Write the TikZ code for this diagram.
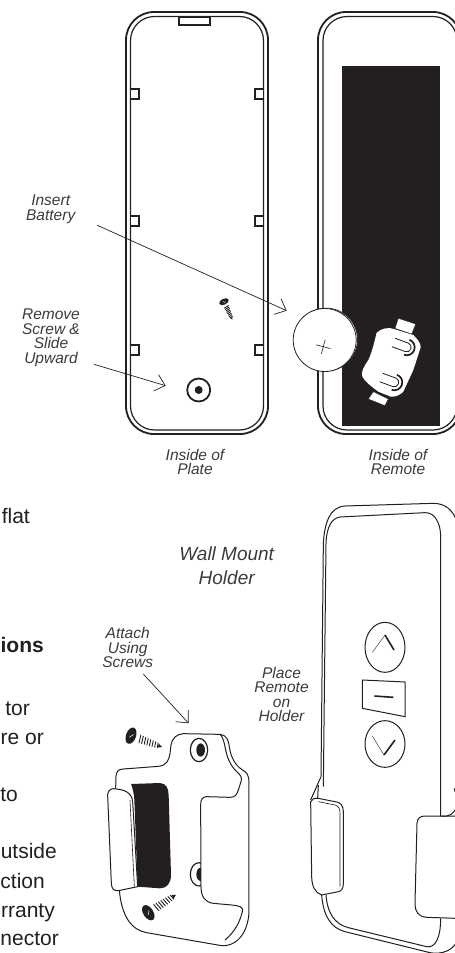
\documentclass[tikz,border=0pt]{standalone}
\usepackage{fontspec}
\setmainfont{Liberation Sans}
\usetikzlibrary{arrows.meta}
\definecolor{ink}{HTML}{231F20}
\definecolor{note}{HTML}{3C3A3B}
\begin{document}
\begin{tikzpicture}[x=1pt, y=-1pt,
    rim/.style={draw=ink, line width=1.8pt, rounded corners=#1},
    lug/.style={draw=ink, line width=1.5pt, fill=white},
    outline/.style={draw=ink, line width=1pt},
    pointer/.style={draw=ink, line width=0.7pt, -{Straight Barb[length=9.5pt, width=17pt, line width=0.7pt]}},
    caption/.style={text=note, align=center, inner sep=0pt, font=\fontsize{15.5}{14.5}\selectfont\itshape},
    body/.style={text=ink, inner sep=0pt, anchor=base east, font=\fontsize{21}{24}\selectfont},
    screw/.pic={
        \fill[ink] (0,0) ellipse [x radius=5, y radius=8.5];
        \draw[white, line width=0.5pt] (-1,2) -- (2,-2);
        \foreach \i in {0,...,7}
            \draw[ink, line width=0.9pt] ({9+\i*2.7},{-(4.2-\i*0.2)}) -- ({10+\i*2.7},{4.2-\i*0.2});
        \fill[ink] (29,-2) -- (33,0) -- (29,2) -- cycle;
    },
    contact/.pic={
        \draw[ink, line width=1.7pt] (0,-8) arc [start angle=-90, end angle=90, radius=8];
        \draw[ink, line width=0.8pt] (-14,-4.5) -- (0,-4.5) arc [start angle=-90, end angle=90, radius=4.5] -- (-14,4.5);
    }]
    \useasboundingbox (0,0) rectangle (455,953);
    \clip (0,0) rectangle (455,953);

    % Plate
    \draw[rim=28pt] (126,12) rectangle (268,434);
    \draw[rim=24pt, line width=1.2pt] (130.5,16.5) rectangle (263.5,430);
    \draw[lug] (179,17) rectangle (210,25);
    \foreach \y in {89,216,345} {
        \draw[lug] (130.5,\y) rectangle (139,\y+10);
        \draw[lug] (255,\y) rectangle (263.5,\y+10);
    }
    \pic[rotate=-65, scale=0.6] at (224,301.7) {screw};
    \draw[ink, line width=1.8pt] (198.7,390) circle [radius=11.5];
    \fill[ink] (198.7,390) circle [radius=4];

    % Remote
    \draw[rim=28pt] (318,12) rectangle (461,434);
    \draw[rim=24pt, line width=1.2pt] (323,16.5) rectangle (457,430);
    \fill[ink] (342,66) rectangle (440,425.7);

    % Battery and its clip
    \draw[draw=ink, fill=white, line width=0.7pt] (326,339.6) circle [radius=31.5];
    \draw[draw=ink, fill=white, line width=0.8pt] (324.7,340) circle [radius=31.5];
    \draw[ink, line width=0.6pt] (316.2,344.8) -- (330.4,348.6) (325.2,339.6) -- (321.4,353.8);
    \begin{scope}[shift={(0,200)}, scale=1/3]
        \fill[white] (1130,398) .. controls (1145,385) and (1165,380) .. (1185,388) -- (1240,405) .. controls (1255,420) and (1262,430) .. (1262,442) -- (1240,510) -- (1210,575) .. controls (1200,585) and (1185,592) .. (1172,590) -- (1135,575) .. controls (1115,560) and (1095,545) .. (1087,530) .. controls (1082,515) and (1092,500) .. (1105,480) .. controls (1115,460) and (1122,430) .. (1130,398) -- cycle;
        \draw[draw=ink, fill=white, line width=0.4pt] (1195,355) -- (1247,372) -- (1235,402) -- (1185,385) -- cycle;
        \draw[draw=ink, fill=white, line width=0.4pt] (1120,575) -- (1165,597) -- (1155,617) -- (1105,597) -- cycle;
    \end{scope}
    \pic[rotate=-20] at (406.7,347.3) {contact};
    \pic[rotate=-20] at (394.3,382.3) {contact};

    % Holder
    \begin{scope}[shift={(0,690)}, scale=1/3]
        \fill[ink] (393,282) -- (480,279) .. controls (500,281) and (505,295) .. (506,315) -- (513,555) .. controls (513,580) and (500,595) .. (480,595) -- (413,590) -- (403,330) .. controls (402,310) and (398,295) .. (393,282) -- cycle;
        \draw[outline] (660,133) .. controls (680,135) and (685,150) .. (688,170) .. controls (692,200) and (705,225) .. (725,238) .. controls (742,248) and (747,255) .. (747,280) -- (747,660) .. controls (747,720) and (715,770) .. (665,767) -- (440,728) .. controls (395,720) and (365,680) .. (358,600);
        \draw[outline] (347,295) -- (348,260) .. controls (349,243) and (355,238) .. (370,237) -- (475,229) .. controls (500,227) and (507,210) .. (510,190) -- (513,165) .. controls (516,145) and (530,132) .. (550,131) -- (660,133) .. controls (668,140) and (672,155) .. (675,170) .. controls (680,200) and (690,225) .. (710,245) .. controls (722,255) and (727,262) .. (723,275) -- (715,300) .. controls (710,315) and (705,322) .. (690,322) -- (620,320) .. controls (608,320) and (602,328) .. (602,345) -- (603,590) .. controls (603,620) and (615,637) .. (640,640) -- (695,645) .. controls (720,648) and (730,650) .. (727,665) .. controls (720,695) and (705,725) .. (675,750);
        \draw[outline] (323,315) .. controls (323,305) and (330,296) .. (340,296) .. controls (370,298) and (395,305) .. (398,335) -- (413,590) -- (355,602) .. controls (340,603) and (335,595) .. (334,580) -- (323,315);
        \draw[outline, line width=0.6pt] (390,330) -- (403,590);
        \draw[outline, line width=1.2pt] (597,180) ellipse [x radius=26, y radius=35];
        \fill[ink] (602,180) ellipse [x radius=13, y radius=20];
        \begin{scope}
            \clip (500,500) rectangle (603,600);
            \draw[outline, line width=1.2pt] (597,553) ellipse [x radius=26, y radius=35];
            \fill[ink] (602,553) ellipse [x radius=13, y radius=20];
        \end{scope}
    \end{scope}
    \pic[rotate=-20] at (131,735.7) {screw};
    \pic[rotate=33] at (148.3,912.7) {screw};

    % Remote on holder
    \begin{scope}[shift={(290,490)}, scale=1/3]
        \draw[outline] (93,860) -- (100,165) .. controls (102,100) and (120,50) .. (165,48) -- (430,40) .. controls (465,40) and (490,60) .. (500,95);
        \draw[outline] (100,890) -- (108,160) .. controls (110,110) and (125,85) .. (150,81) -- (405,68) .. controls (435,67) and (452,100) .. (452,140) -- (452,978);
        \draw[outline] (93,860) -- (62,930);
        \draw[outline] (85,885) -- (83,925);
        \draw[outline] (95,1215) .. controls (100,1280) and (125,1315) .. (165,1325) -- (420,1388) .. controls (455,1395) and (490,1380) .. (500,1355);
        \draw[outline] (108,1215) .. controls (112,1270) and (135,1303) .. (175,1313) -- (410,1370) .. controls (435,1375) and (452,1345) .. (452,1285);
        \draw[outline] (452,978) .. controls (480,982) and (492,970) .. (500,950);
        \draw[outline] (493,895) -- (495,905);
        % clips
        \draw[outline] (62,935) -- (65,1160) .. controls (66,1190) and (75,1208) .. (95,1215) -- (145,1205) .. controls (155,1203) and (160,1195) .. (160,1180) -- (160,965) .. controls (160,945) and (150,938) .. (140,936) -- (85,925) .. controls (72,923) and (66,928) .. (62,935);
        \draw[outline, line width=0.6pt] (85,935) -- (135,945) .. controls (145,948) and (150,955) .. (150,970) -- (150,1190);
        \draw[outline] (500,978) -- (405,978) .. controls (390,978) and (382,985) .. (381,1000) -- (375,1240) .. controls (375,1265) and (385,1280) .. (410,1282) -- (500,1285);
        % buttons
        \draw[outline] (285,472) ellipse [x radius=60, y radius=75];
        \draw[ink, line width=0.4pt] (247,487) -- (285,435);
        \draw[ink, line width=1.6pt] (285,435) -- (312,480);
        \draw[outline] (217,570) -- (345,576) -- (345,680) -- (217,655) -- cycle;
        \draw[ink, line width=1.6pt] (253,618) -- (310,622);
        \draw[outline] (285,762) ellipse [x radius=60, y radius=70];
        \draw[ink, line width=0.4pt] (247,738) -- (282,795);
        \draw[ink, line width=1.6pt] (282,795) -- (315,750);
    \end{scope}

    % Nodes
    \node[caption] (battery) at (50.7,209.5) {Insert\\Battery};
    \node[caption] (screw) at (51,338) {Remove\\Screw \&\\Slide\\Upward};
    \node[caption] (plate) at (195,462) {Inside of\\Plate};
    \node[caption] (remote) at (398,462) {Inside of\\Remote};
    \node[caption, font=\fontsize{19}{24}\selectfont\itshape] (mount) at (226.7,566) {Wall Mount\\Holder};
    \node[caption] (attach) at (127.7,647.5) {Attach\\Using\\Screws};
    \node[caption] (place) at (281.5,694.5) {Place\\Remote\\on\\Holder};
    \node[body] (flat) at (30,523) {flat};
    \node[body, font=\fontsize{21}{24}\selectfont\bfseries] (ions) at (44,652) {ions};
    \node[body] (tor) at (30,715) {tor};
    \node[body] (reor) at (44,744) {re or};
    \node[body] (into) at (18,801.7) {to};
    \node[body] (outside) at (57,858) {utside};
    \node[body] (ction) at (45,888) {ction};
    \node[body] (rranty) at (55,917) {rranty};
    \node[body] (nector) at (59,945) {nector};

    \coordinate (batterytail) at (97.3,225.3);
    \coordinate (batterytip) at (286.7,310.7);
    \coordinate (screwtail) at (94,364.3);
    \coordinate (screwtip) at (165.7,385.7);
    \coordinate (attachtail) at (143.3,674);
    \coordinate (attachtip) at (188.7,723.3);

    % Edges
    \draw[pointer] (batterytail) -- (batterytip);
    \draw[pointer] (screwtail) -- (screwtip);
    \draw[pointer] (attachtail) -- (attachtip);
\end{tikzpicture}
\end{document}
